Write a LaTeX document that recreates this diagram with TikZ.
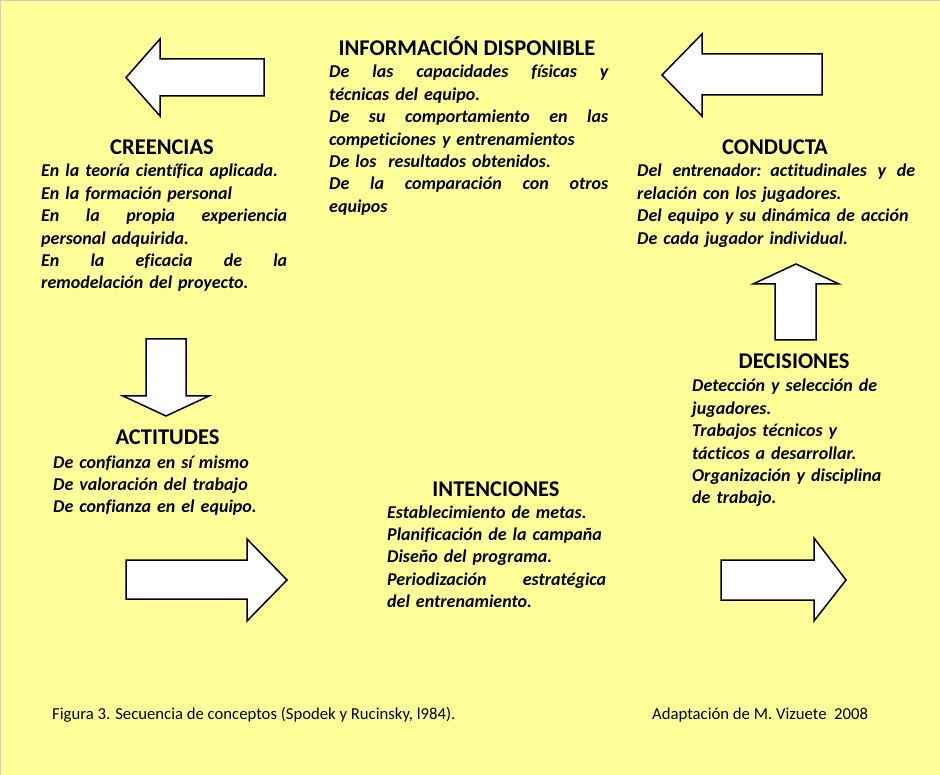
\documentclass[tikz,border=0pt]{standalone}
\usepackage{fontspec}
\setmainfont{Carlito}[Ligatures=CommonOff]
\definecolor{bg}{HTML}{FFFF99}
\newcommand{\jl}[2]{\leavevmode\hbox to #1{\spaceskip=\fontdimen2\font plus 1fil\relax #2}}
\begin{document}
\begin{tikzpicture}[x=1pt,y=-1pt,
  blockarrow/.style={draw=black,fill=white,line width=1.5pt,line join=miter},
  ttl/.style={font=\fontsize{22.5}{26}\selectfont\bfseries,inner sep=0pt,anchor=base},
  body/.style={font=\fontsize{18}{22.4}\selectfont\bfseries\itshape,inner sep=0pt,anchor=base west,align=left},
  foot/.style={font=\fontsize{16.7}{20}\selectfont,inner sep=0pt,anchor=base west}]
\fill[bg] (0,0) rectangle (940,775);
\useasboundingbox (0,0) rectangle (940,775);
\draw[black!20,line width=1pt] (0.5,775) -- (0.5,0.5) -- (940,0.5);
% block arrows
\draw[blockarrow] (264,59) -- (160,59) -- (160,39) -- (126,77.5) -- (160,116) -- (160,96) -- (264,96) -- cycle;
\draw[blockarrow] (822,54) -- (702,54) -- (702,34) -- (662,75) -- (702,116) -- (702,95) -- (822,95) -- cycle;
\draw[blockarrow] (146,339) -- (186,339) -- (186,396) -- (209,396) -- (166,416) -- (123,396) -- (146,396) -- cycle;
\draw[blockarrow] (126,560) -- (247,560) -- (247,539) -- (287,580) -- (247,621) -- (247,599) -- (126,599) -- cycle;
\draw[blockarrow] (775,340) -- (775,284) -- (753,284) -- (796,264) -- (839,284) -- (816,284) -- (816,340) -- cycle;
\draw[blockarrow] (721,560) -- (814,560) -- (814,538) -- (846,580) -- (814,621) -- (814,600) -- (721,600) -- cycle;
% titles
\node[ttl] (creencias) at (162,155) {CREENCIAS};
\node[ttl] (info) at (467,56) {INFORMACIÓN DISPONIBLE};
\node[ttl] (conducta) at (775,155) {CONDUCTA};
\node[ttl] (actitudes) at (167.5,445) {ACTITUDES};
\node[ttl] (intenciones) at (496,496) {INTENCIONES};
\node[ttl] (decisiones) at (794,369) {DECISIONES};
% bodies
\node[body,text width=246pt] (creB) at (41,177) {En la teoría científica aplicada.\\
En la formación personal\\
\jl{246pt}{En la propia experiencia}\\
personal adquirida.\\
\jl{246pt}{En la eficacia de la}\\
remodelación del proyecto.};
\node[body,text width=279pt] (infoB) at (329,78) {\jl{279pt}{De las capacidades físicas y}\\
técnicas del equipo.\\
\jl{279pt}{De su comportamiento en las}\\
competiciones y entrenamientos\\
De los\ \ resultados obtenidos.\\
\jl{279pt}{De la comparación con otros}\\
equipos};
\node[body,text width=278pt] (conB) at (637,177) {\jl{278pt}{Del entrenador: actitudinales y de}\\
relación con los jugadores.\\
Del equipo y su dinámica de acción\\
De cada jugador individual.};
\node[body,text width=240pt] (actB) at (53,468) {De confianza en sí mismo\\
De valoración del trabajo\\
De confianza en el equipo.};
\node[body,text width=219pt] (intB) at (387,518) {Establecimiento de metas.\\
Planificación de la campaña\\
Diseño del programa.\\
\jl{219pt}{Periodización estratégica}\\
del entrenamiento.};
\node[body,text width=230pt] (decB) at (692,392) {Detección y selección de\\
jugadores.\\
Trabajos técnicos y\\
tácticos a desarrollar.\\
Organización y disciplina\\
de trabajo.};
% footer
\node[foot] (fig) at (52,719) {Figura 3. Secuencia de conceptos (Spodek y Rucinsky, l984).};
\node[foot] (adapt) at (652,719) {Adaptación de M. Vizuete\ \ 2008};
\end{tikzpicture}
\end{document}
